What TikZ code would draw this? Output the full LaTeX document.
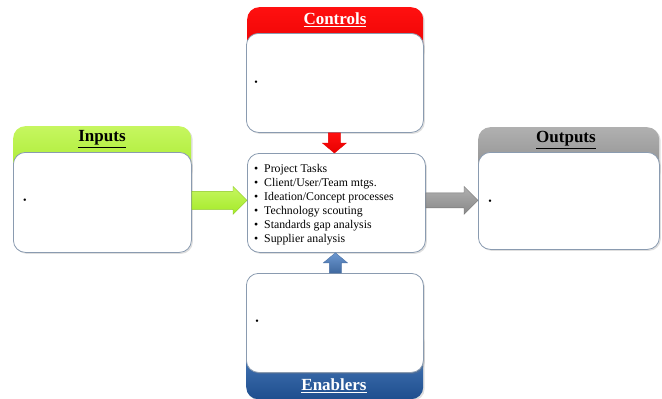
\documentclass[tikz,border=0pt]{standalone}
\usepackage{fontspec}
\setmainfont{Liberation Serif}
\usetikzlibrary{shadows,calc}
\definecolor{boxline}{HTML}{8A9BB0}
\definecolor{redA}{HTML}{FF1010}
\definecolor{redB}{HTML}{E80000}
\definecolor{grnA}{HTML}{C6F660}
\definecolor{grnB}{HTML}{A4EA28}
\definecolor{gryA}{HTML}{B0B0B0}
\definecolor{gryB}{HTML}{888888}
\definecolor{bluA}{HTML}{5B8CCB}
\definecolor{bluB}{HTML}{1E4E8E}
\begin{document}
\begin{tikzpicture}[x=1pt,y=-1pt,
  shd/.style={drop shadow={opacity=0.25,shadow xshift=1.5pt,shadow yshift=-1.5pt}},
  hdr/.style={rounded corners=12pt,inner sep=0pt,anchor=north west,shd},
  body/.style={draw=boxline,line width=0.8pt,fill=white,rounded corners=12pt,inner sep=0pt,anchor=north west,shd},
  ttl/.style={font=\fontsize{17}{20}\selectfont\bfseries,inner sep=0pt},
  dot/.style={font=\fontsize{10}{10}\selectfont,inner sep=0pt},
  blk/.style={line width=0.4pt}
]
\useasboundingbox (0,0) rectangle (662,399);

% Controls
\node[hdr,top color=redA,bottom color=redB,minimum width=176pt,minimum height=55pt] (cH) at (247,7) {};
\node[body,minimum width=177pt,minimum height=99pt] (cB) at (246,33) {};
\node[ttl,text=white] (cT) at (335,20) {\underline{Controls}};
\node[dot] (cD) at (256,83) {\textbullet};

% Inputs
\node[hdr,top color=grnA,bottom color=grnB,minimum width=178pt,minimum height=55pt] (iH) at (13,126) {};
\node[body,minimum width=178pt,minimum height=100pt] (iB) at (13,152) {};
\node[ttl,text=black] (iT) at (102,139) {\underline{Inputs}};
\node[dot] (iD) at (25,201) {\textbullet};

% Outputs
\node[hdr,top color=gryA,bottom color=gryB,minimum width=181pt,minimum height=55pt] (oH) at (478,127) {};
\node[body,minimum width=181pt,minimum height=97pt] (oB) at (478,152) {};
\node[ttl,text=black] (oT) at (566,140) {\underline{Outputs}};
\node[dot] (oD) at (490,202) {\textbullet};

% Enablers
\node[hdr,top color=bluA,bottom color=bluB,minimum width=177pt,minimum height=70pt] (eH) at (246,329) {};
\node[body,minimum width=177pt,minimum height=99pt] (eB) at (246,273) {};
\node[ttl,text=white] (eT) at (334,386) {\underline{Enablers}};
\node[dot] (eD) at (257,322) {\textbullet};

% Center
\node[body,minimum width=178pt,minimum height=99pt] (ctr) at (247,153) {};
\node[anchor=north west,inner sep=0pt,align=left,font=\fontsize{11.8}{14}\selectfont] (lst) at (254,164)
 {\makebox[10pt][l]{\textbullet}Project Tasks\\
  \makebox[10pt][l]{\textbullet}Client/User/Team mtgs.\\
  \makebox[10pt][l]{\textbullet}Ideation/Concept processes\\
  \makebox[10pt][l]{\textbullet}Technology scouting\\
  \makebox[10pt][l]{\textbullet}Standards gap analysis\\
  \makebox[10pt][l]{\textbullet}Supplier analysis};

% Block arrows
\coordinate (gi) at ($(iB.east)+(0,-2)$);
\coordinate (go) at ($(ctr.west |- gi)$);
\path[blk,top color=grnA,bottom color=grnB,draw=grnB!85!black]
  ($(gi)+(0,-9)$) -- ($(go)+(-14,-9)$) -- ($(go)+(-14,-14)$) -- (go)
  -- ($(go)+(-14,14)$) -- ($(go)+(-14,9)$) -- ($(gi)+(0,9)$) -- cycle;

\coordinate (yi) at ($(ctr.east)+(0,-2.5)$);
\coordinate (yo) at ($(oB.west |- yi)$);
\path[blk,top color=gryA,bottom color=gryB,draw=gryB!85!black]
  ($(yi)+(0,-7.5)$) -- ($(yo)+(-14,-7.5)$) -- ($(yo)+(-14,-14)$) -- (yo)
  -- ($(yo)+(-14,14)$) -- ($(yo)+(-14,7.5)$) -- ($(yi)+(0,7.5)$) -- cycle;

\coordinate (ri) at ($(cB.south)+(-0.5,0)$);
\coordinate (ro) at ($(ri |- ctr.north)$);
\path[blk,top color=redA,bottom color=redB,draw=redB]
  ($(ri)+(-6,0)$) -- ($(ro)+(-6,-10)$) -- ($(ro)+(-12,-10)$) -- (ro)
  -- ($(ro)+(12,-10)$) -- ($(ro)+(6,-10)$) -- ($(ri)+(6,0)$) -- cycle;

\coordinate (bi) at ($(eB.north)+(0.5,0)$);
\coordinate (bo) at ($(bi |- ctr.south)$);
\path[blk,top color=bluA!90,bottom color=bluB!85,draw=bluB!80]
  ($(bi)+(-6,0)$) -- ($(bo)+(-6,10)$) -- ($(bo)+(-12,10)$) -- (bo)
  -- ($(bo)+(12,10)$) -- ($(bo)+(6,10)$) -- ($(bi)+(6,0)$) -- cycle;
\end{tikzpicture}
\end{document}
